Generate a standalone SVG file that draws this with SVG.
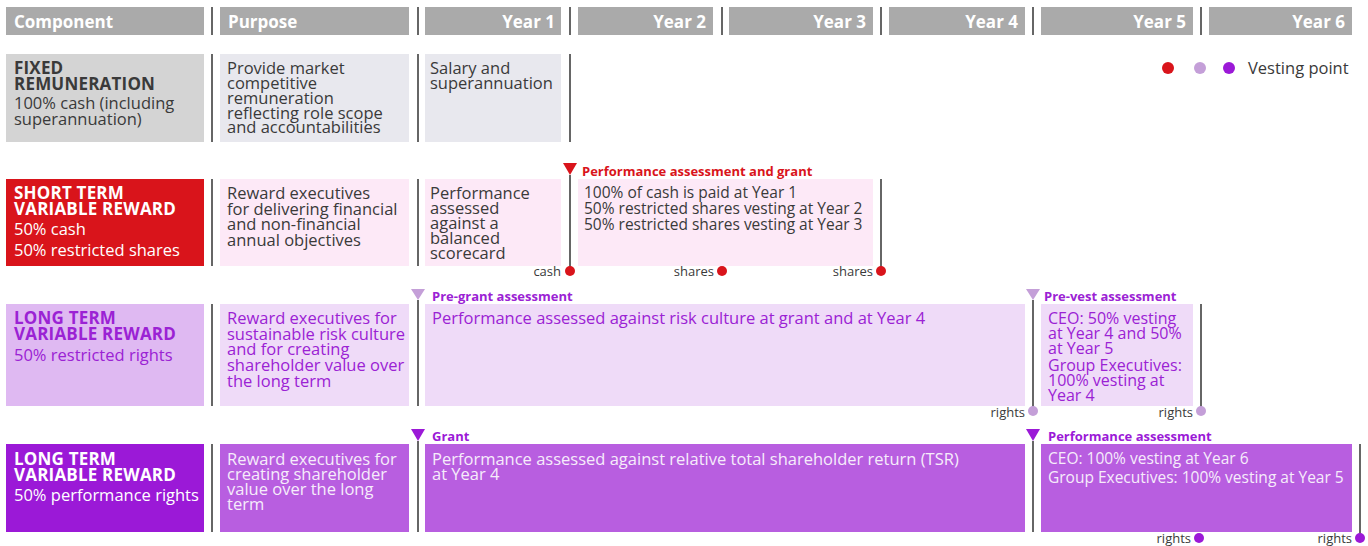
<svg xmlns="http://www.w3.org/2000/svg" width="1368" height="546" viewBox="0 0 1368 546">
<style>
text{font-family:"Open Sans","Liberation Sans",sans-serif;font-size:16.5px;fill:#3a3a3a}
.h{font-weight:bold;font-size:17px;fill:#fff}
.hr{text-anchor:end}
.b{font-weight:bold;font-size:17px;letter-spacing:0.2px}
.n{font-size:15.5px}
.m{font-size:16px}
.w{fill:#fff}
.p{fill:#9b22d4}
.pw{fill:#f6ecfb}
.lab{font-weight:bold;font-size:13px}
.sm{font-size:13px;text-anchor:end}
.sep{stroke:#333;stroke-width:1.5}
.hdr{fill:#aaaaaa}
</style>
<g id="header">
<rect class="hdr" x="6" y="7" width="198" height="28"/><text class="h" x="14" y="28">Component</text>
<rect class="hdr" x="220" y="7" width="189" height="28"/><text class="h" x="228" y="28">Purpose</text>
<rect class="hdr" x="425" y="7" width="136" height="28"/><text class="h hr" x="555" y="28">Year 1</text>
<rect class="hdr" x="578" y="7" width="135" height="28"/><text class="h hr" x="706" y="28">Year 2</text>
<rect class="hdr" x="729" y="7" width="144" height="28"/><text class="h hr" x="866" y="28">Year 3</text>
<rect class="hdr" x="889" y="7" width="136" height="28"/><text class="h hr" x="1018" y="28">Year 4</text>
<rect class="hdr" x="1041" y="7" width="152" height="28"/><text class="h hr" x="1186" y="28">Year 5</text>
<rect class="hdr" x="1209" y="7" width="143" height="28"/><text class="h hr" x="1345" y="28">Year 6</text>
</g>
<g id="legend">
<circle cx="1168" cy="68" r="6" fill="#d9141b"/>
<circle cx="1200" cy="68" r="6" fill="#c49fd8"/>
<circle cx="1229" cy="68" r="6" fill="#9b19d7"/>
<text x="1248" y="74">Vesting point</text>
</g>
<g id="fixed">
<rect x="6" y="54" width="198" height="88" fill="#d4d4d4"/>
<text x="14" y="74" class="b">FIXED</text>
<text x="14" y="90" class="b">REMUNERATION</text>
<text x="14" y="109">100% cash (including</text>
<text x="14" y="125">superannuation)</text>
<rect x="220" y="54" width="189" height="88" fill="#e8e8ee"/>
<text x="227" y="74">Provide market</text>
<text x="227" y="89">competitive</text>
<text x="227" y="104">remuneration</text>
<text x="227" y="119">reflecting role scope</text>
<text x="227" y="133">and accountabilities</text>
<rect x="425" y="54" width="136" height="88" fill="#e8e8ee"/>
<text x="430" y="74">Salary and</text>
<text x="430" y="89">superannuation</text>
</g>
<g id="stvr">
<rect x="6" y="179" width="198" height="87" fill="#d9141b"/>
<text x="14" y="199" class="b w">SHORT TERM</text>
<text x="14" y="215" class="b w">VARIABLE REWARD</text>
<text x="14" y="235" class="w">50% cash</text>
<text x="14" y="256" class="w">50% restricted shares</text>
<rect x="220" y="179" width="189" height="87" fill="#fde9f7"/>
<text x="227" y="199">Reward executives</text>
<text x="227" y="215">for delivering financial</text>
<text x="227" y="230">and non-financial</text>
<text x="227" y="246">annual objectives</text>
<rect x="425" y="179" width="136" height="87" fill="#fde9f7"/>
<text x="430" y="199">Performance</text>
<text x="430" y="214">assessed</text>
<text x="430" y="229">against a</text>
<text x="430" y="244">balanced</text>
<text x="430" y="259">scorecard</text>
<rect x="578" y="179" width="295" height="87" fill="#fde9f7"/>
<text x="584" y="198" class="n">100% of cash is paid at Year 1</text>
<text x="584" y="214" class="n">50% restricted shares vesting at Year 2</text>
<text x="584" y="230" class="n">50% restricted shares vesting at Year 3</text>
<text x="582" y="176" class="lab" style="fill:#d9141b">Performance assessment and grant</text>
</g>
<g id="ltvr-restricted">
<rect x="6" y="304" width="198" height="102" fill="#dfb9f2"/>
<text x="14" y="324" class="b p">LONG TERM</text>
<text x="14" y="340" class="b p">VARIABLE REWARD</text>
<text x="14" y="361" class="p">50% restricted rights</text>
<rect x="220" y="304" width="189" height="102" fill="#efdbf8"/>
<text x="227" y="324" class="p">Reward executives for</text>
<text x="227" y="340" class="p">sustainable risk culture</text>
<text x="227" y="355" class="p">and for creating</text>
<text x="227" y="371" class="p">shareholder value over</text>
<text x="227" y="387" class="p">the long term</text>
<rect x="425" y="304" width="600" height="102" fill="#efdbf8"/>
<text x="432" y="324" class="p">Performance assessed against risk culture at grant and at Year 4</text>
<rect x="1041" y="304" width="152" height="102" fill="#efdbf8"/>
<text x="1048" y="324" class="p m">CEO: 50% vesting</text>
<text x="1048" y="339" class="p m">at Year 4 and 50%</text>
<text x="1048" y="354" class="p m">at Year 5</text>
<text x="1048" y="371" class="p m">Group Executives:</text>
<text x="1048" y="386" class="p m">100% vesting at</text>
<text x="1048" y="401" class="p m">Year 4</text>
<text x="432" y="301" class="lab p">Pre-grant assessment</text>
<text x="1044" y="301" class="lab p">Pre-vest assessment</text>
</g>
<g id="ltvr-performance">
<rect x="6" y="444" width="198" height="88" fill="#9b19d7"/>
<text x="14" y="465" class="b w">LONG TERM</text>
<text x="14" y="481" class="b w">VARIABLE REWARD</text>
<text x="14" y="501" class="w">50% performance rights</text>
<rect x="220" y="444" width="189" height="88" fill="#b85ee0"/>
<text x="227" y="465" class="pw">Reward executives for</text>
<text x="227" y="480" class="pw">creating shareholder</text>
<text x="227" y="495" class="pw">value over the long</text>
<text x="227" y="510" class="pw">term</text>
<rect x="425" y="444" width="600" height="88" fill="#b85ee0"/>
<text x="432" y="465" class="pw">Performance assessed against relative total shareholder return (TSR)</text>
<text x="432" y="480" class="pw">at Year 4</text>
<rect x="1041" y="444" width="311" height="88" fill="#b85ee0"/>
<text x="1048" y="464" class="pw n">CEO: 100% vesting at Year 6</text>
<text x="1048" y="483" class="pw n">Group Executives: 100% vesting at Year 5</text>
<text x="432" y="441" class="lab" style="fill:#9b19d7">Grant</text>
<text x="1048" y="441" class="lab" style="fill:#9b19d7">Performance assessment</text>
</g>
<g id="connectors">
<g class="sep">
<line x1="212" y1="7" x2="212" y2="35"/><line x1="418" y1="7" x2="418" y2="35"/><line x1="570" y1="7" x2="570" y2="35"/><line x1="722" y1="7" x2="722" y2="35"/><line x1="881" y1="7" x2="881" y2="35"/><line x1="1033" y1="7" x2="1033" y2="35"/><line x1="1201" y1="7" x2="1201" y2="35"/>
<line x1="212" y1="54" x2="212" y2="142"/><line x1="418" y1="54" x2="418" y2="142"/><line x1="570" y1="54" x2="570" y2="142"/>
<line x1="212" y1="179" x2="212" y2="266"/><line x1="418" y1="179" x2="418" y2="266"/><line x1="570" y1="175" x2="570" y2="271"/><line x1="881" y1="179" x2="881" y2="271"/>
<line x1="212" y1="304" x2="212" y2="406"/><line x1="418" y1="300" x2="418" y2="406"/><line x1="1033" y1="300" x2="1033" y2="411"/><line x1="1201" y1="304" x2="1201" y2="411"/>
<line x1="212" y1="444" x2="212" y2="532"/><line x1="418" y1="441" x2="418" y2="532"/><line x1="1033" y1="441" x2="1033" y2="532"/><line x1="1360" y1="444" x2="1360" y2="538"/>
</g>
<polygon points="563,163 577,163 570,175" fill="#d9141b"/>
<polygon points="411,289 425,289 418,300" fill="#c49fd8"/>
<polygon points="1026,289 1040,289 1033,300" fill="#c49fd8"/>
<polygon points="411,429 425,429 418,441" fill="#9b19d7"/>
<polygon points="1026,429 1040,429 1033,441" fill="#9b19d7"/>
<circle cx="570" cy="271" r="5" fill="#d9141b"/><text class="sm" x="561" y="276">cash</text>
<circle cx="722" cy="271" r="5" fill="#d9141b"/><text class="sm" x="714" y="276">shares</text>
<circle cx="881" cy="271" r="5" fill="#d9141b"/><text class="sm" x="873" y="276">shares</text>
<circle cx="1033" cy="411" r="5" fill="#c49fd8"/><text class="sm" x="1025" y="417">rights</text>
<circle cx="1201" cy="411" r="5" fill="#c49fd8"/><text class="sm" x="1193" y="417">rights</text>
<circle cx="1199" cy="538" r="5" fill="#9b19d7"/><text class="sm" x="1191" y="543">rights</text>
<circle cx="1360" cy="538" r="5" fill="#9b19d7"/><text class="sm" x="1352" y="543">rights</text>
</g>
</svg>
